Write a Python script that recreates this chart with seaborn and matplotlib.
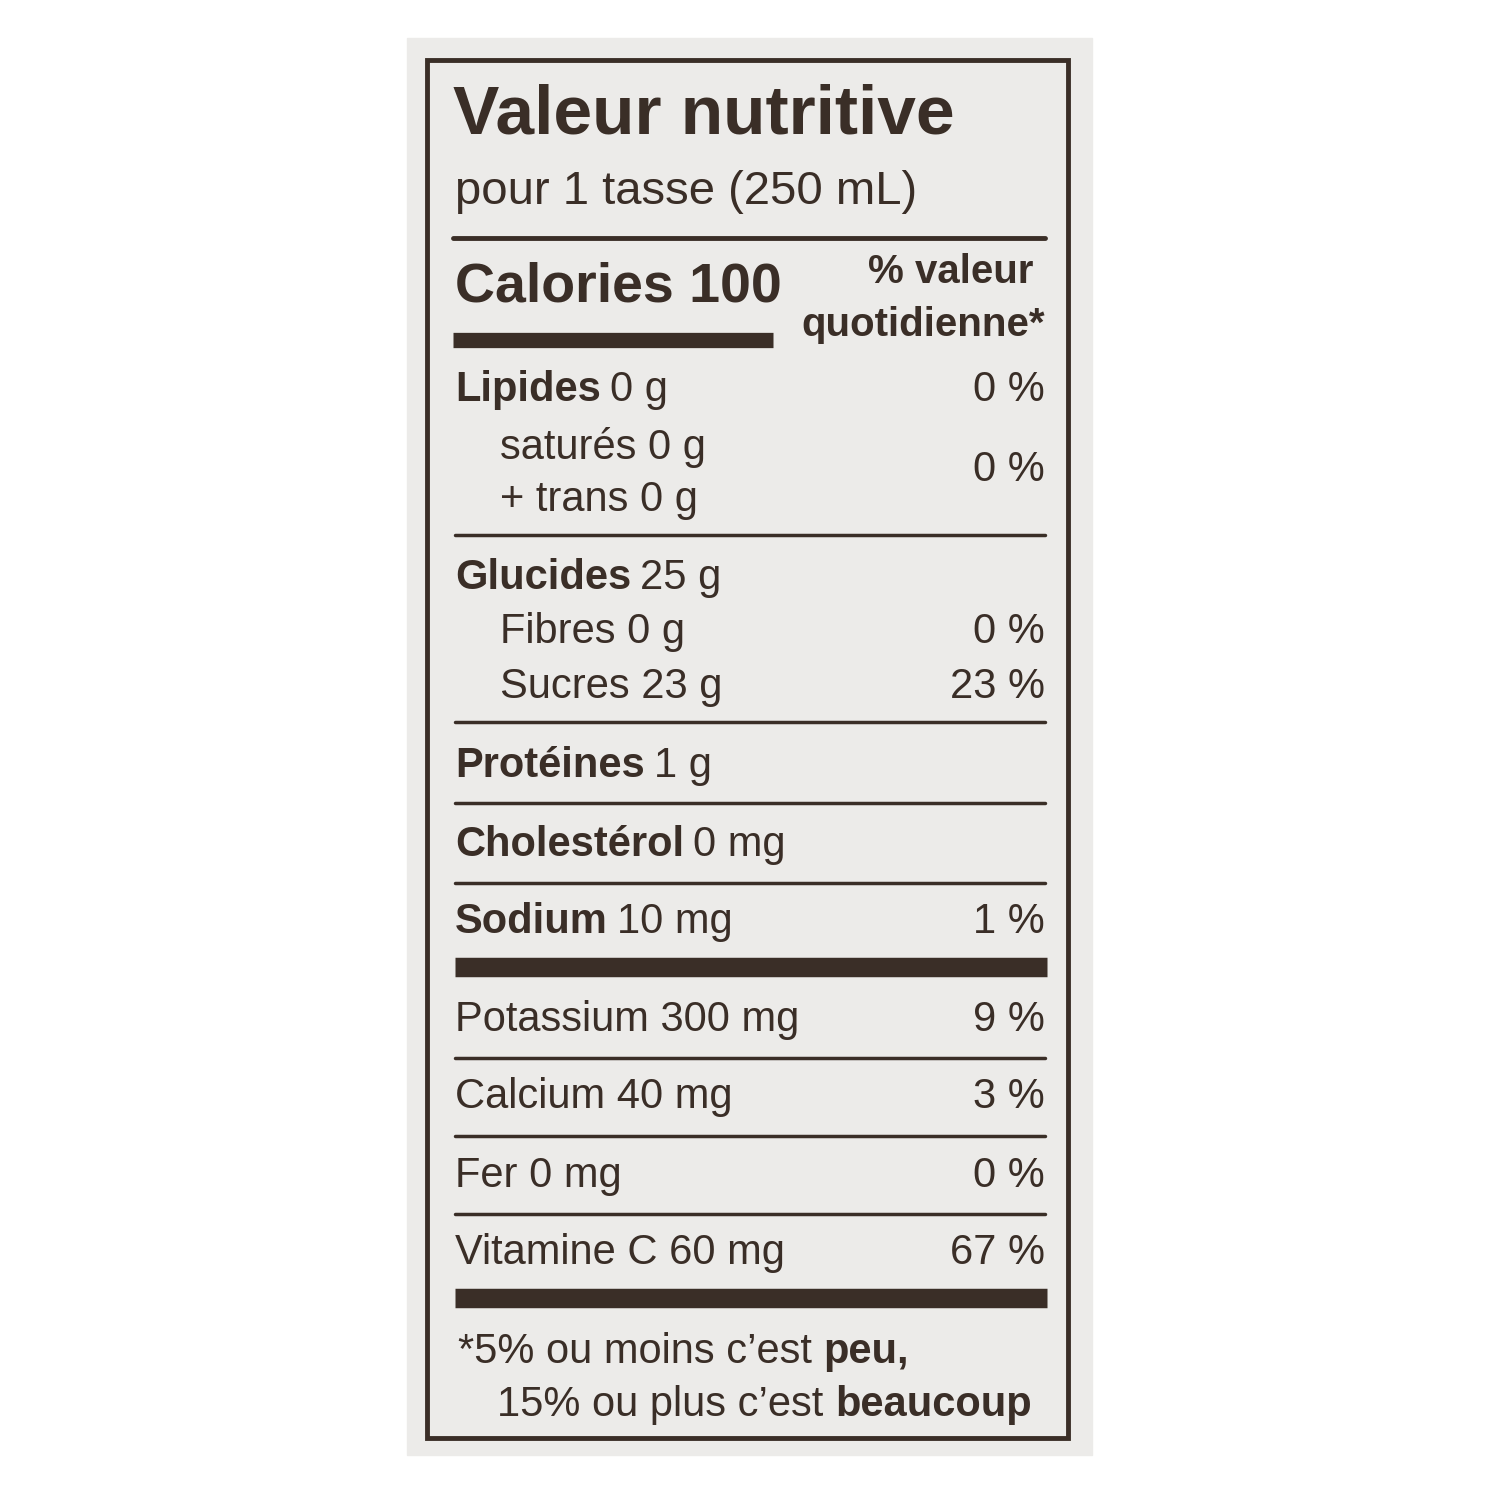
import matplotlib
matplotlib.use("Agg")
import matplotlib.pyplot as plt
import seaborn as sns

sns.set_theme(style="white")
plt.rcParams['font.family'] = ['Liberation Sans Narrow', 'Liberation Sans', 'DejaVu Sans']

ink = '#3a2e27'

title = 'Valeur nutritive'
serving = 'pour 1 tasse (250 mL)'
calories = 'Calories 100'
dv_head = ['% valeur', 'quotidienne*']

# (bold name, amount, percent, indented)
rows = [
    ('Lipides', '0 g', '0 %', False),
    ('', 'saturés 0 g', '', True),
    ('', '+ trans 0 g', '', True),
    ('Glucides', '25 g', '', False),
    ('', 'Fibres 0 g', '0 %', True),
    ('', 'Sucres 23 g', '23 %', True),
    ('Protéines', '1 g', '', False),
    ('Cholestérol', '0 mg', '', False),
    ('Sodium', '10 mg', '1 %', False),
    ('', 'Potassium 300 mg', '9 %', False),
    ('', 'Calcium 40 mg', '3 %', False),
    ('', 'Fer 0 mg', '0 %', False),
    ('', 'Vitamine C 60 mg', '67 %', False),
]
row_y = [390, 447, 500, 578, 632, 687, 766, 845, 922, 1020, 1097, 1176, 1253]
sat_trans_pct = '0 %'
thin_lines = [535, 722, 803, 883, 1058, 1136, 1214]
thick_lines = [967, 1298]
foot = [('*5% ou moins c\u2019est ', 'peu,'), ('15% ou plus c\u2019est ', 'beaucoup')]

fig = plt.figure(figsize=(15, 15), dpi=100)
ax = fig.add_axes([0, 0, 1, 1])
ax.set_xlim(0, 1500)
ax.set_ylim(1500, 0)
ax.axis('off')
fig.patch.set_facecolor('white')

ax.add_patch(plt.Rectangle((407, 38), 685, 1417, color='#ecebe9', zorder=0))
ax.add_patch(plt.Rectangle((427, 60), 641, 1378, fill=False, ec=ink, lw=3.5))

fig.canvas.draw()
r = fig.canvas.get_renderer()


def mixed(x, y, bold, normal, size):
    if bold:
        t = ax.text(x, y, bold, fontsize=size, fontweight='bold', color=ink, va='center')
        x = t.get_window_extent(r).x1 + size * 0.3
    if normal:
        ax.text(x, y, normal, fontsize=size, color=ink, va='center')


ax.text(453, 115, title, fontsize=50, fontweight='bold', color=ink, va='center')
ax.text(455, 192, serving, fontsize=34, color=ink, va='center')
ax.plot([453, 1045], [238, 238], color=ink, lw=3.5)
ax.text(455, 288, calories, fontsize=40, fontweight='bold', color=ink, va='center')
ax.plot([453, 773], [340, 340], color=ink, lw=11, solid_capstyle='butt')
ax.text(1033, 272, dv_head[0], fontsize=29, fontweight='bold', color=ink, va='center', ha='right')
ax.text(1045, 325, dv_head[1], fontsize=29, fontweight='bold', color=ink, va='center', ha='right')

for (name, amt, pct, ind), y in zip(rows, row_y):
    mixed(500 if ind else 455, y, name, amt, 30)
    if pct:
        ax.text(1045, y, pct, fontsize=30, color=ink, va='center', ha='right')
ax.text(1045, 470, sat_trans_pct, fontsize=30, color=ink, va='center', ha='right')

for y in thin_lines:
    ax.plot([455, 1045], [y, y], color=ink, lw=2.5)
for y in thick_lines:
    ax.plot([455, 1047], [y, y], color=ink, lw=14, solid_capstyle='butt')

for (norm, b), (x, y) in zip(foot, [(458, 1352), (497, 1405)]):
    t = ax.text(x, y, norm, fontsize=30, color=ink, va='center')
    ax.text(t.get_window_extent(r).x1, y, b, fontsize=30, fontweight='bold', color=ink, va='center')

fig.savefig('out.png', dpi=100)
